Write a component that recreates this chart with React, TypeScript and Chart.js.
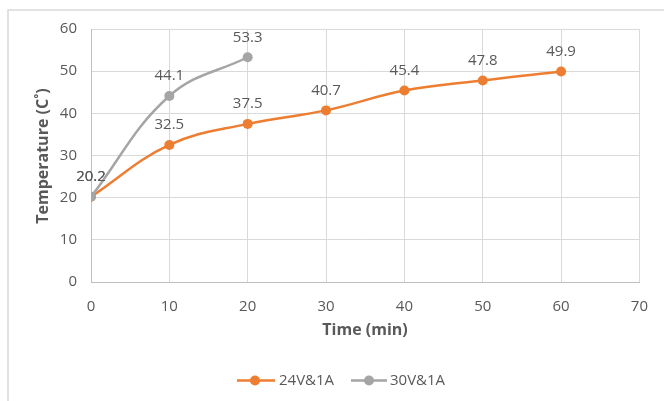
import React, { useEffect, useRef } from "react";
import { Chart, registerables } from "chart.js";

Chart.register(...registerables);

const timeMin = [0, 10, 20, 30, 40, 50, 60];
const series24V = [20.2, 32.5, 37.5, 40.7, 45.4, 47.8, 49.9];
const time30V = [0, 10, 20];
const series30V = [20.2, 44.1, 53.3];
const seriesNames = ["24V&1A", "30V&1A"];
const seriesColors = ["#ED7D31", "#A5A5A5"];
const xTitle = "Time (min)";
const yTitle = "Temperature (C\u02DA)";

const FONT = "'Open Sans', 'Noto Sans', sans-serif";
const TEXT = "#595959";

const decorPlugin = {
  id: "decor",
  beforeDraw(chart: any) {
    const ctx = chart.ctx;
    ctx.save();
    ctx.fillStyle = "#ffffff";
    ctx.fillRect(0, 0, chart.width, chart.height);
    ctx.strokeStyle = "#d9d9d9";
    ctx.lineWidth = 1.5;
    ctx.strokeRect(8, 10, 720, 520);
    ctx.restore();
  },
  afterDatasetsDraw(chart: any) {
    const ctx = chart.ctx;
    ctx.save();
    ctx.font = `15px ${FONT}`;
    ctx.fillStyle = TEXT;
    ctx.textAlign = "center";
    ctx.textBaseline = "middle";
    const order = [1, 0];
    order.forEach((di) => {
      const meta = chart.getDatasetMeta(di);
      const ds = chart.data.datasets[di];
      meta.data.forEach((pt: any, i: number) => {
        const v = ds.data[i].y;
        ctx.fillText(v.toFixed(1), pt.x, pt.y - 20);
      });
    });
    ctx.restore();
  },
  afterDraw(chart: any) {
    const ctx = chart.ctx;
    ctx.save();
    ctx.fillStyle = TEXT;
    ctx.font = `bold 16px ${FONT}`;
    ctx.textAlign = "center";
    ctx.textBaseline = "middle";
    ctx.fillText(xTitle, 365, 330);
    ctx.save();
    ctx.translate(43, 156);
    ctx.rotate(-Math.PI / 2);
    ctx.fillText(yTitle, 0, 0);
    ctx.restore();

    const items = [
      { x0: 237, x1: 275, cx: 255, tx: 279 },
      { x0: 351, x1: 387, cx: 369, tx: 390 },
    ];
    const ly = 380.5;
    ctx.font = `15px ${FONT}`;
    ctx.textAlign = "left";
    items.forEach((it, i) => {
      ctx.strokeStyle = seriesColors[i];
      ctx.lineWidth = 2.5;
      ctx.beginPath();
      ctx.moveTo(it.x0, ly);
      ctx.lineTo(it.x1, ly);
      ctx.stroke();
      ctx.fillStyle = seriesColors[i];
      ctx.beginPath();
      ctx.arc(it.cx, ly, 5, 0, Math.PI * 2);
      ctx.fill();
      ctx.fillStyle = TEXT;
      ctx.fillText(seriesNames[i], it.tx, ly);
    });
    ctx.restore();
  },
};

export default function App() {
  const ref = useRef<HTMLCanvasElement | null>(null);
  useEffect(() => {
    if (!ref.current) return;
    const chart = new Chart(ref.current, {
      type: "line",
      data: {
        datasets: [
          {
            label: seriesNames[1],
            data: time30V.map((x, i) => ({ x, y: series30V[i] })),
            borderColor: seriesColors[1],
            backgroundColor: seriesColors[1],
            borderWidth: 2.5,
            pointRadius: 5,
            pointBorderWidth: 0,
            tension: 0.4,
            order: 0,
          },
          {
            label: seriesNames[0],
            data: timeMin.map((x, i) => ({ x, y: series24V[i] })),
            borderColor: seriesColors[0],
            backgroundColor: seriesColors[0],
            borderWidth: 2.5,
            pointRadius: 5,
            pointBorderWidth: 0,
            tension: 0.4,
            order: 1,
          },
        ],
      },
      options: {
        responsive: false,
        animation: false,
        layout: { padding: { top: 29, right: 23, left: 0, bottom: 0 } },
        plugins: {
          legend: { display: false },
          tooltip: { enabled: false },
          title: { display: false },
        },
        scales: {
          x: {
            type: "linear",
            min: 0,
            max: 70,
            ticks: {
              stepSize: 10,
              color: TEXT,
              font: { family: FONT, size: 15 },
              padding: 16,
              maxRotation: 0,
            },
            grid: { color: "#d9d9d9", drawTicks: false, lineWidth: 1 },
            border: { color: "#bfbfbf", width: 1 },
            afterFit: (s: any) => {
              s.height = 119;
            },
          },
          y: {
            min: 0,
            max: 60,
            ticks: {
              stepSize: 10,
              color: TEXT,
              font: { family: FONT, size: 15 },
              padding: 14,
            },
            grid: { color: "#d9d9d9", drawTicks: false, lineWidth: 1 },
            border: { color: "#bfbfbf", width: 1 },
            afterFit: (s: any) => {
              s.width = 91;
            },
          },
        },
      },
      plugins: [decorPlugin],
    });
    return () => chart.destroy();
  }, []);
  return (
    <div style={{ position: "fixed", left: 0, top: 0, width: 664, height: 401, background: "#fff" }}>
      <canvas ref={ref} width={664} height={401} style={{ display: "block", width: 664, height: 401 }} />
    </div>
  );
}
